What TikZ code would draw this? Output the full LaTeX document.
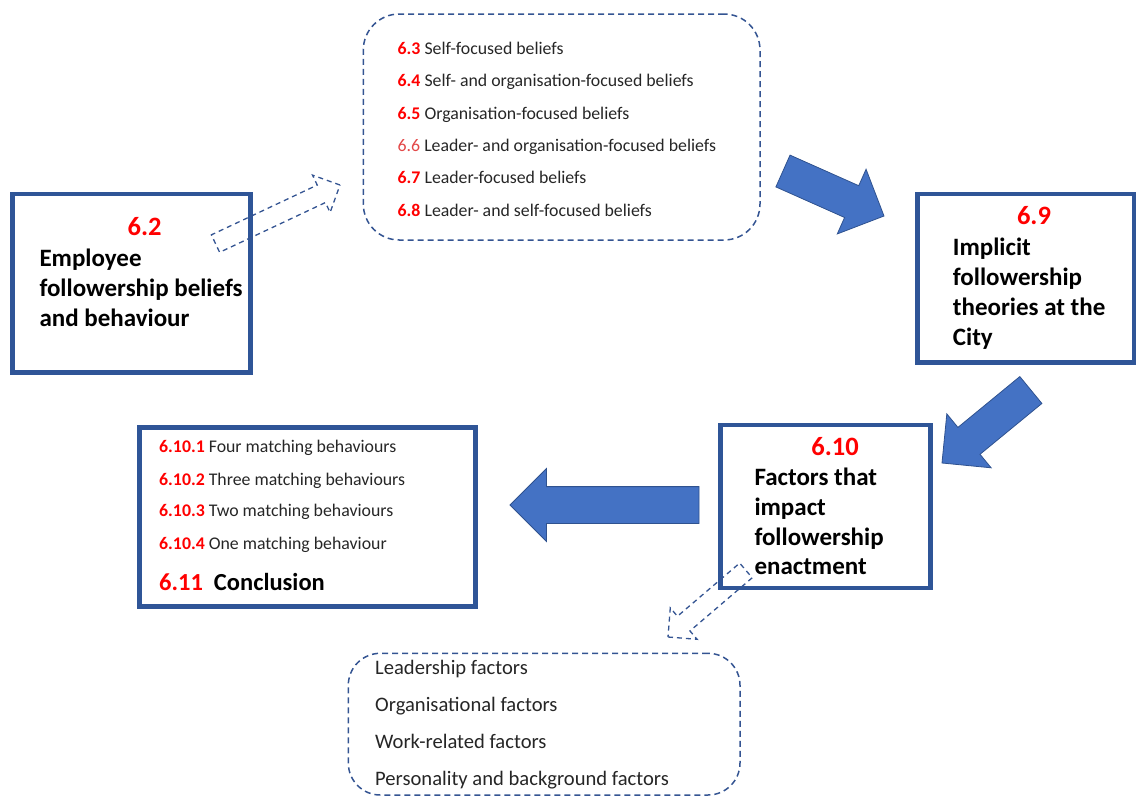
\documentclass[tikz,border=0pt]{standalone}
\usepackage{fontspec}
\setmainfont{Carlito}
\usetikzlibrary{shapes.arrows}
\definecolor{BoxLine} {RGB}{47,85,151}
\definecolor{DashLine}{RGB}{52,84,146}
\definecolor{ArrFill} {RGB}{68,114,196}
\definecolor{ArrLine} {RGB}{47,82,143}
\definecolor{NumRed}  {RGB}{255,0,0}
\definecolor{NumPale} {RGB}{226,72,72}
\definecolor{TxtDark} {RGB}{38,38,38}
\tikzset{
  bx_sol/.style={
    rectangle, draw=BoxLine, line width=4.5pt, inner sep=0pt},
  bx_dash/.style={
    rectangle, draw=DashLine, line width=1.5pt,
    dash pattern=on 6pt off 4pt, inner sep=0pt},
  arr_blk/.style={
    single arrow, fill=ArrFill, draw=ArrLine, line width=0.8pt,
    inner xsep=0pt, outer sep=0pt, minimum width=0pt, anchor=tip},
  arr_dash/.style={
    single arrow, draw=DashLine, line width=1.3pt,
    dash pattern=on 5pt off 4pt,
    inner xsep=0pt, outer sep=0pt, minimum width=0pt, anchor=tip},
  t_itm/.style={
    anchor=base west, inner sep=0pt, text=TxtDark,
    font=\fontsize{17.8}{21}\selectfont},
  t_fac/.style={
    anchor=base west, inner sep=0pt, text=TxtDark,
    font=\fontsize{20.6}{24}\selectfont},
  t_ttl/.style={
    anchor=base west, inner sep=0pt, text=black,
    font=\fontsize{25}{30}\selectfont\bfseries},
  t_num/.style={
    anchor=base, inner sep=0pt, text=NumRed,
    font=\fontsize{26.5}{30}\selectfont\bfseries},
}
\newcommand{\snum}[1]{{\bfseries\color{NumRed}#1}}

\begin{document}
\begin{tikzpicture}[x=1pt,y=-1pt]
\useasboundingbox (0,0) rectangle (1136,798);

%% text columns
\def\xT{397.5}\def\xA{39.3}\def\xB{952.7}\def\xC{754.3}\def\xD{159}\def\xF{375}

%% boxes
\node[bx_sol, minimum width=238pt, minimum height=178.5pt] (bxA) at (131.5,283.25) {};
\node[bx_sol, minimum width=216.5pt, minimum height=168.5pt] (bxB) at (1025.75,278.25) {};
\node[bx_sol, minimum width=210pt, minimum height=163pt] (bxC) at (825.5,506.5) {};
\node[bx_sol, minimum width=336pt, minimum height=179pt] (bxD) at (307.5,517) {};
\node[bx_dash, rounded corners=36pt, minimum width=396.7pt, minimum height=226pt] (bel) at (561.65,127) {};
\node[bx_dash, rounded corners=32pt, minimum width=391.7pt, minimum height=141.7pt] (fac) at (544.15,724.15) {};

%% block arrows
\node[arr_blk, minimum height=110.6pt, inner ysep=17pt, single arrow head extend=18pt,
  rotate=-24] (arB) at (884,216) {};
\node[arr_blk, minimum height=115pt, inner ysep=17pt, single arrow head extend=17.5pt,
  rotate=-140.6] (arC) at (942,463) {};
\node[arr_blk, minimum height=189pt, inner ysep=18pt, single arrow head extend=18pt,
  rotate=180] (arD) at (510,505) {};

%% dashed arrows
\node[arr_dash, minimum height=137.6pt, inner ysep=9pt, single arrow head extend=11pt,
  rotate=25.2] (daA) at (340,185) {};
\node[arr_dash, minimum height=102.5pt, inner ysep=9pt, single arrow head extend=11pt,
  rotate=-139.5] (daC) at (668,637) {};

%% Box A
\node[t_num] (nA) at (144.7,235) {6.2};
\foreach \t [count=\i from 0] in {Employee,followership beliefs,and behaviour}
  \node[t_ttl] (tA\i) at (\xA,266.7+30*\i) {\t};

%% Box B
\node[t_num] (nB) at (1034,224.3) {6.9};
\foreach \t [count=\i from 0] in {Implicit,followership,theories at the,City}
  \node[t_ttl] (tB\i) at (\xB,255+30*\i) {\t};

%% Box C
\node[t_num] (nC) at (835,455) {6.10};
\foreach \t [count=\i from 0] in {Factors that,impact,followership,enactment}
  \node[t_ttl] (tC\i) at (\xC,485.5+29.8*\i) {\t};

%% beliefs
\node[t_itm] (b3) at (\xT,54.5)  {\snum{6.3} Self-focused beliefs};
\node[t_itm] (b4) at (\xT,86.8)  {\snum{6.4} Self- and organisation-focused beliefs};
\node[t_itm] (b5) at (\xT,119.1) {\snum{6.5} Organisation-focused beliefs};
\node[t_itm] (b6) at (\xT,151.4) {{\color{NumPale}6.6} Leader- and organisation-focused beliefs};
\node[t_itm] (b7) at (\xT,183.7) {\snum{6.7} Leader-focused beliefs};
\node[t_itm] (b8) at (\xT,216)   {\snum{6.8} Leader- and self-focused beliefs};

%% Box D
\node[t_itm] (d1) at (\xD,452.3) {\snum{6.10.1} Four matching behaviours};
\node[t_itm] (d2) at (\xD,485)   {\snum{6.10.2} Three matching behaviours};
\node[t_itm] (d3) at (\xD,516.7) {\snum{6.10.3} Two matching behaviours};
\node[t_itm] (d4) at (\xD,549.3) {\snum{6.10.4} One matching behaviour};
\node[t_itm, text=black, font=\fontsize{24.5}{28}\selectfont\bfseries] (d5) at (\xD,590.5)
  {{\color{NumRed}6.11}\hspace{11pt}Conclusion};

%% factors
\foreach \t [count=\i from 0] in {Leadership factors,Organisational factors,
  Work-related factors,Personality and background factors}
  \node[t_fac] (f\i) at (\xF,674.3+37.2*\i) {\t};

\end{tikzpicture}
\end{document}
